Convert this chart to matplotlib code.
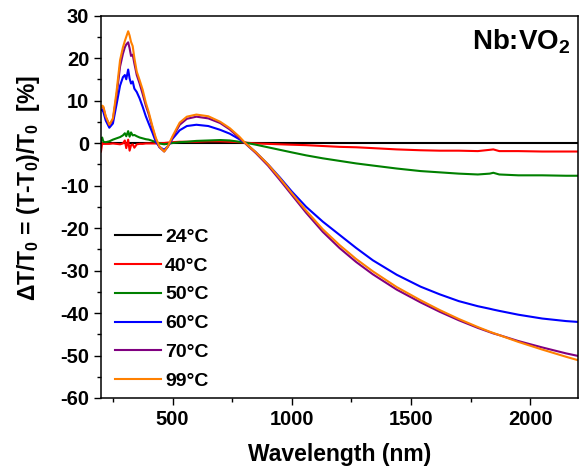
import numpy as np
import matplotlib
matplotlib.use('Agg')
import matplotlib.pyplot as plt
from matplotlib.ticker import MultipleLocator

plt.rcParams['font.family'] = ['Liberation Sans', 'DejaVu Sans']
plt.rcParams['font.weight'] = 'bold'
plt.rcParams['axes.unicode_minus'] = False
plt.rcParams['mathtext.fontset'] = 'custom'
plt.rcParams['mathtext.rm'] = 'Liberation Sans:bold'
plt.rcParams['mathtext.it'] = 'Liberation Sans:bold'
plt.rcParams['mathtext.bf'] = 'Liberation Sans:bold'

# wavelength grid (nm)
wl = [200, 205, 210, 220, 235, 250, 265, 280, 292, 300,
      306, 314, 320, 326, 333, 340, 350, 362, 375, 388,
      400, 416, 430, 445, 465, 480, 500, 530, 560, 600,
      650, 700, 740, 780, 805, 850, 900, 950, 1000, 1060,
      1130, 1200, 1270, 1340, 1440, 1540, 1620, 1700, 1780, 1830,
      1845, 1870, 1950, 2050, 2150, 2200]

# dT/T0 in %
t24 = [0, 0, 0, 0, 0, 0, 0, 0, 0, 0,
       0, 0, 0, 0, 0, 0, 0, 0, 0, 0,
       0, 0, 0, 0, 0, 0, 0, 0, 0, 0,
       0, 0, 0, 0, 0, 0, 0, 0, 0, 0,
       0, 0, 0, 0, 0, 0, 0, 0, 0, 0,
       0, 0, 0, 0, 0, 0]
t40 = [-2.0, 0.0, -0.2, -0.2, -0.2, -0.1, -0.2, -0.3, -0.1, 0.6,
       -1.2, 0.8, -1.8, -0.5, -0.3, -1.1, -0.3, -0.2, -0.2, -0.1,
       -0.1, -0.1, -0.1, 0.0, 0.0, 0.1, 0.2, 0.3, 0.3, 0.3,
       0.4, 0.4, 0.3, 0.2, 0.1, -0.1, -0.2, -0.3, -0.4, -0.5,
       -0.7, -0.9, -1.0, -1.2, -1.5, -1.7, -1.8, -1.8, -1.9, -1.6,
       -1.5, -1.9, -1.9, -2.0, -2.0, -2.0]
t50 = [0.5, 1.3, 0.3, 0.2, 0.4, 0.8, 1.1, 1.4, 1.8, 2.3,
       1.6, 2.8, 1.5, 2.5, 1.8, 1.9, 1.6, 1.3, 1.1, 0.9,
       0.8, 0.5, 0.2, -0.1, -0.3, -0.2, 0.0, 0.2, 0.3, 0.5,
       0.6, 0.7, 0.6, 0.3, 0.1, -0.4, -1.0, -1.6, -2.2, -2.9,
       -3.6, -4.2, -4.8, -5.3, -6.0, -6.6, -6.9, -7.2, -7.4, -7.2,
       -7.0, -7.4, -7.6, -7.6, -7.7, -7.7]
t60 = [7.8, 7.8, 7.3, 5.3, 3.6, 4.6, 9.0, 13.5, 15.5, 16.0,
       15.0, 17.3, 15.2, 14.0, 14.5, 12.8, 12.0, 10.5, 8.5, 6.3,
       4.6, 2.4, 0.3, -0.9, -1.6, -0.8, 1.0, 3.0, 4.0, 4.3,
       4.0, 3.1, 2.2, 0.9, 0.0, -2.2, -5.0, -8.1, -11.4, -15.0,
       -18.5, -21.6, -24.7, -27.6, -31.0, -33.8, -35.6, -37.2, -38.4, -39.0,
       -39.2, -39.5, -40.4, -41.3, -41.9, -42.1]
t70 = [8.2, 8.5, 8.3, 6.1, 4.2, 5.5, 11.0, 18.0, 21.0, 22.5,
       23.2, 23.7, 22.3, 20.5, 20.8, 18.7, 16.0, 14.0, 11.5, 8.8,
       6.8, 3.5, 0.9, -1.0, -2.0, -0.9, 1.3, 4.3, 5.7, 6.2,
       5.8, 4.7, 3.2, 1.2, -0.1, -2.4, -5.3, -8.7, -12.2, -16.4,
       -20.9, -24.7, -28.0, -30.9, -34.5, -37.5, -39.7, -41.7, -43.5, -44.5,
       -44.8, -45.2, -46.6, -48.1, -49.5, -50.1]
t99 = [8.3, 8.8, 8.6, 6.3, 4.3, 5.8, 12.0, 19.5, 22.5, 24.0,
       25.0, 26.3, 25.3, 23.8, 22.8, 20.0, 16.8, 14.8, 12.5, 9.5,
       7.3, 3.9, 1.2, -0.8, -2.0, -0.8, 1.6, 4.8, 6.2, 6.7,
       6.3, 5.0, 3.5, 1.5, 0.0, -2.2, -5.0, -8.3, -11.8, -15.9,
       -20.3, -24.0, -27.3, -30.2, -33.9, -37.0, -39.3, -41.4, -43.3, -44.4,
       -44.7, -45.2, -46.8, -48.6, -50.3, -51.1]

labels = ['24°C', '40°C', '50°C', '60°C', '70°C', '99°C']
colors = ['black', '#FF0000', '#008000', '#0000FF', '#800080', '#FF8000']

fig = plt.figure(figsize=(5.81, 4.71), dpi=100)
ax = fig.add_axes([0.1738, 0.155, 0.821, 0.812])

for y, lab, c in zip([t24, t40, t50, t60, t70, t99], labels, colors):
    ax.plot(wl, y, color=c, lw=1.5, label=lab)

ax.set_xlim(200, 2200)
ax.set_ylim(-60, 30)
ax.xaxis.set_major_locator(MultipleLocator(500))
ax.xaxis.set_minor_locator(MultipleLocator(250))
ax.yaxis.set_major_locator(MultipleLocator(10))
ax.yaxis.set_minor_locator(MultipleLocator(5))
ax.tick_params(which='major', direction='out', length=5, width=1, labelsize=14.5)
ax.tick_params(which='minor', direction='out', length=3, width=1)
for s in ax.spines.values():
    s.set_linewidth(1.1)

ax.set_xlabel('Wavelength (nm)', fontsize=16.5, fontweight='bold', labelpad=10)
ax.set_ylabel('ΔT/T$_0$ = (T-T$_0$)/T$_0$  [%]', fontsize=16.5, fontweight='bold')
ax.yaxis.set_label_coords(-0.124, 0.549)

ax.text(0.985, 0.97, 'Nb:VO$_2$', transform=ax.transAxes, ha='right', va='top',
        fontsize=20, fontweight='bold')

ax.legend(loc='lower left', bbox_to_anchor=(0.0, -0.015), frameon=False,
          prop={'size': 14, 'weight': 'bold'}, handlelength=2.4,
          handletextpad=0.2, labelspacing=0.58, borderaxespad=0.3)

fig.savefig('out.png', dpi=100)
